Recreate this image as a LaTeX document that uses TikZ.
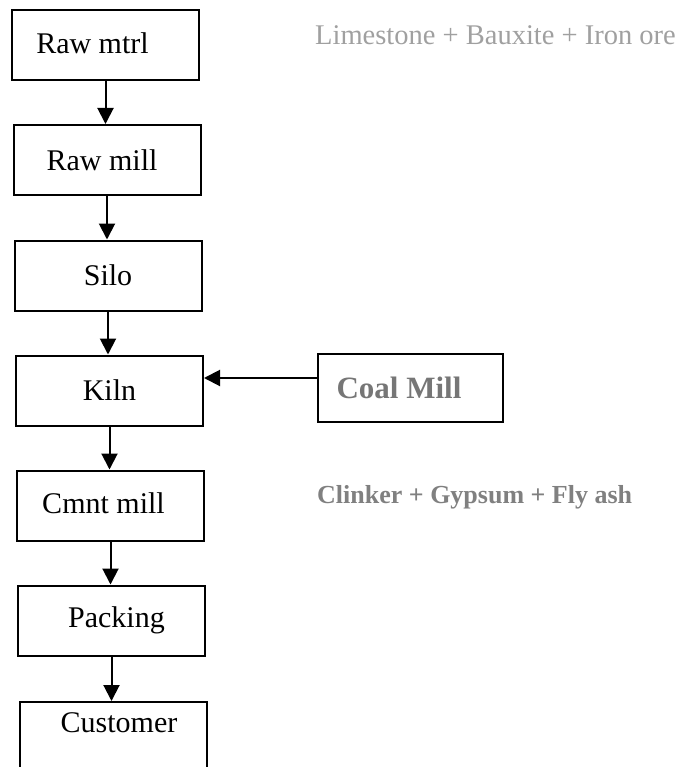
\documentclass[tikz,border=0pt]{standalone}
\usepackage{fontspec}
\setmainfont{Liberation Serif}
\usetikzlibrary{arrows.meta}
\definecolor{lightgraytext}{HTML}{A0A0A0}
\definecolor{midgraytext}{HTML}{767676}
\definecolor{darkgraytext}{HTML}{808080}
\begin{document}
\begin{tikzpicture}[x=1pt,y=-1pt,
  box/.style={draw, line width=2pt, minimum width=187pt, minimum height=70pt,
    inner sep=0pt, font=\fontsize{30}{36}\selectfont},
  arr/.style={line width=2pt, -{Triangle[width=16pt,length=16pt]}},
  note/.style={inner sep=0pt, anchor=base west},
]
\useasboundingbox (0,0) rectangle (682,767);
\clip (0,0) rectangle (682,767);

\node[box] (rawmtrl) at (105.5,45) {\raisebox{3pt}{Raw mtrl}\hspace*{26pt}};
\node[box] (rawmill) at (107,160) {Raw mill\hspace*{10pt}};
\node[box] (silo) at (108,275.5) {Silo};
\node[box] (kiln) at (109.5,390.5) {Kiln};
\node[box] (cmnt) at (110.5,505.5) {\raisebox{4pt}{Cmnt mill}\hspace*{14pt}};
\node[box] (pack) at (111.5,620.5) {\hspace*{10pt}Packing};
\node[box] (cust) at (113,737) {\hspace*{12pt}\raisebox{5pt}[0pt][0pt]{Customer}};

\node[box, minimum width=185pt, minimum height=68pt, font=\fontsize{31}{36}\selectfont\bfseries, text=midgraytext] (coal) at (410,388) {Coal Mill\hspace*{22pt}};

\node[note, font=\fontsize{28.5}{34}\selectfont, text=lightgraytext] (lime) at (315,45) {Limestone + Bauxite + Iron ore};
\node[note, font=\fontsize{26}{32}\selectfont\bfseries, text=darkgraytext] (clink) at (317,503) {Clinker + Gypsum + Fly ash};

\draw[arr] (rawmtrl.south) -- (rawmtrl.south |- rawmill.north);
\draw[arr] (rawmill.south) -- (rawmill.south |- silo.north);
\draw[arr] (silo.south) -- (silo.south |- kiln.north);
\draw[arr] (kiln.south) -- (kiln.south |- cmnt.north);
\draw[arr] (cmnt.south) -- (cmnt.south |- pack.north);
\draw[arr] (pack.south) -- (pack.south |- cust.north);

\coordinate (cw) at ([yshift=10pt]coal.west);
\draw[arr] (cw) -- (kiln.east |- cw);
\end{tikzpicture}
\end{document}
